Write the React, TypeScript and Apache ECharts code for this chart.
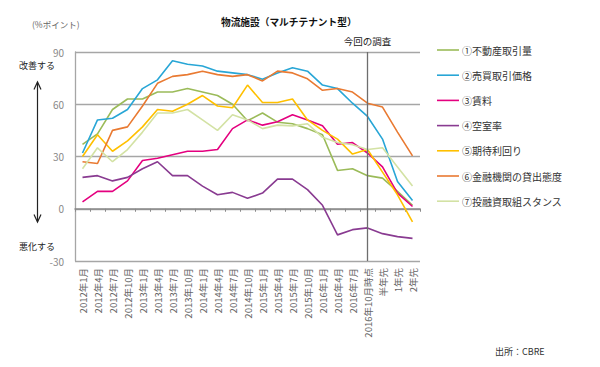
import React, { useEffect, useRef } from "react";
import * as echarts from "echarts";

const categories = [
  "2012年1月", "2012年4月", "2012年7月", "2012年10月",
  "2013年1月", "2013年4月", "2013年7月", "2013年10月",
  "2014年1月", "2014年4月", "2014年7月", "2014年10月",
  "2015年1月", "2015年4月", "2015年7月", "2015年10月",
  "2016年1月", "2016年4月", "2016年7月", "2016年10月時点",
  "半年先", "1年先", "2年先",
];

const seriesNames = [
  "①不動産取引量", "②売買取引価格", "③賃料", "④空室率",
  "⑤期待利回り", "⑥金融機関の貸出態度", "⑦投融資取組スタンス",
];

const volume = [37, 43, 57, 63, 63, 67, 67, 69, 67, 65, 60, 50.5, 55, 49.7, 48.8, 46, 42.5, 22, 23, 19, 17.6, 10, 2];
const price = [32, 51, 52, 57, 69, 74, 85, 83, 82, 79, 78, 77, 74.4, 78, 81, 79, 71, 69, 60.6, 53, 40, 15.7, 4.8];
const rent = [4, 10, 10, 16, 27.7, 29, 31, 33, 33, 34, 46, 51, 48, 50, 54, 51, 47.6, 37, 38, 32, 24, 9, 1.3];
const vacancy = [18, 19, 16, 18, 23, 27, 19, 19, 13, 8, 9.4, 6, 9, 17, 17, 11, 2, -15, -12, -11, -14.3, -16, -17];
const yieldExp = [30, 42.5, 33, 39, 47, 57, 56, 60, 65, 59, 58, 71, 61, 61, 63, 51, 45, 40, 31.4, 34, 21, 8, -7.5];
const lending = [27, 26, 45, 47, 59, 72, 76, 77, 79, 77, 76, 77, 73.4, 79, 78, 74.6, 68, 69, 67, 60.6, 58.4, 44, 30.4];
const stance = [23, 35, 27, 34, 44, 55, 55, 57, 51, 45, 54, 51, 46, 48, 47.6, 48.8, 41, 38, 36.7, 34, 35, 24, 13];

const seriesValues = [volume, price, rent, vacancy, yieldExp, lending, stance];
const seriesColors = ["#9BBB59", "#28A6D6", "#E4007F", "#893B91", "#FFC000", "#E97A32", "#D3E2A4"];

const yTicks = { min: -30, max: 90, interval: 30 };
const surveyCategory = "2016年10月時点";

const FONT = '"Noto Sans CJK JP", "Noto Sans", sans-serif';

export default function App() {
  const ref = useRef<HTMLDivElement>(null);

  useEffect(() => {
    if (!ref.current) return;
    const chart = echarts.init(ref.current, null, { renderer: "svg" });

    const series: any[] = seriesNames.map((name, i) => ({
      name,
      type: "line",
      xAxisIndex: 0,
      yAxisIndex: 0,
      data: seriesValues[i],
      symbol: "none",
      color: seriesColors[i],
      lineStyle: { color: seriesColors[i], width: 1.6 },
      z: 3,
    }));
    series[1].markLine = {
      silent: true,
      symbol: ["none", "none"],
      lineStyle: { color: "#6e6e6e", width: 1.3, type: "solid" },
      label: {
        show: true,
        position: "end",
        formatter: "今回の調査",
        fontSize: 9.5,
        color: "#222",
        fontFamily: FONT,
        distance: 6,
      },
      data: [{ xAxis: surveyCategory }],
    };

    const legendGraphics: any[] = [];
    seriesNames.forEach((name, i) => {
      const y = 50 + 25.2 * i;
      legendGraphics.push({
        type: "line",
        shape: { x1: 437, y1: y, x2: 459, y2: y },
        style: { stroke: seriesColors[i], lineWidth: 1.6 },
      });
      legendGraphics.push({
        type: "text",
        x: 462,
        y,
        style: {
          text: name,
          fontSize: 10,
          fill: "#333",
          fontFamily: FONT,
          verticalAlign: "middle",
          align: "left",
        },
      });
    });

    chart.setOption({
      animation: false,
      textStyle: { fontFamily: FONT },
      grid: { left: 75, right: 180, top: 52, bottom: 106, containLabel: false },
      xAxis: [
        {
          type: "category",
          data: categories,
          position: "bottom",
          boundaryGap: true,
          axisLine: { show: false, onZero: false },
          axisTick: { show: false },
          axisLabel: {
            rotate: 90,
            fontSize: 9.5,
            color: "#666",
            margin: 7,
            interval: 0,
            fontFamily: FONT,
          },
        },
        {
          type: "category",
          data: categories,
          position: "bottom",
          boundaryGap: true,
          axisLine: { show: true, onZero: true, lineStyle: { color: "#8a8a8a", width: 1.5 } },
          axisTick: { show: true, length: 3, interval: 0, lineStyle: { color: "#8a8a8a", width: 1 } },
          axisLabel: { show: false },
        },
      ],
      yAxis: {
        type: "value",
        min: yTicks.min,
        max: yTicks.max,
        interval: yTicks.interval,
        axisLine: { show: true, lineStyle: { color: "#a6a6a6", width: 1.3 } },
        axisTick: { show: false },
        axisLabel: { fontSize: 10, color: "#888", margin: 11, fontFamily: FONT },
        splitLine: { show: true, lineStyle: { color: "#a6a6a6", width: 1.3 } },
      },
      graphic: [
        {
          type: "text",
          left: 221,
          top: 17,
          style: {
            text: "物流施設（マルチテナント型）",
            fontSize: 9.7,
            fontWeight: "bold",
            fill: "#111",
            fontFamily: FONT,
          },
        },
        {
          type: "text",
          left: 32,
          top: 20,
          style: { text: "(%ポイント)", fontSize: 8.5, fill: "#666", fontFamily: FONT },
        },
        {
          type: "text",
          left: 19,
          top: 61,
          style: { text: "改善する", fontSize: 9, fill: "#222", fontFamily: FONT },
        },
        {
          type: "text",
          left: 19,
          top: 242,
          style: { text: "悪化する", fontSize: 9, fill: "#222", fontFamily: FONT },
        },
        {
          type: "line",
          shape: { x1: 37.5, y1: 82.5, x2: 37.5, y2: 221.5 },
          style: { stroke: "#222", lineWidth: 1.2 },
        },
        {
          type: "polyline",
          shape: { points: [[34, 89.5], [37.5, 82], [41, 89.5]] },
          style: { stroke: "#222", lineWidth: 1.2, fill: "none" },
        },
        {
          type: "polyline",
          shape: { points: [[34, 214.5], [37.5, 222], [41, 214.5]] },
          style: { stroke: "#222", lineWidth: 1.2, fill: "none" },
        },
        {
          type: "text",
          left: 495,
          top: 347,
          style: { text: "出所：CBRE", fontSize: 9, fill: "#333", fontFamily: FONT },
        },
        ...legendGraphics,
      ],
      series,
    });

    return () => chart.dispose();
  }, []);

  return (
    <div
      ref={ref}
      style={{ position: "absolute", left: 0, top: 0, width: 600, height: 367, background: "#fff" }}
    />
  );
}
